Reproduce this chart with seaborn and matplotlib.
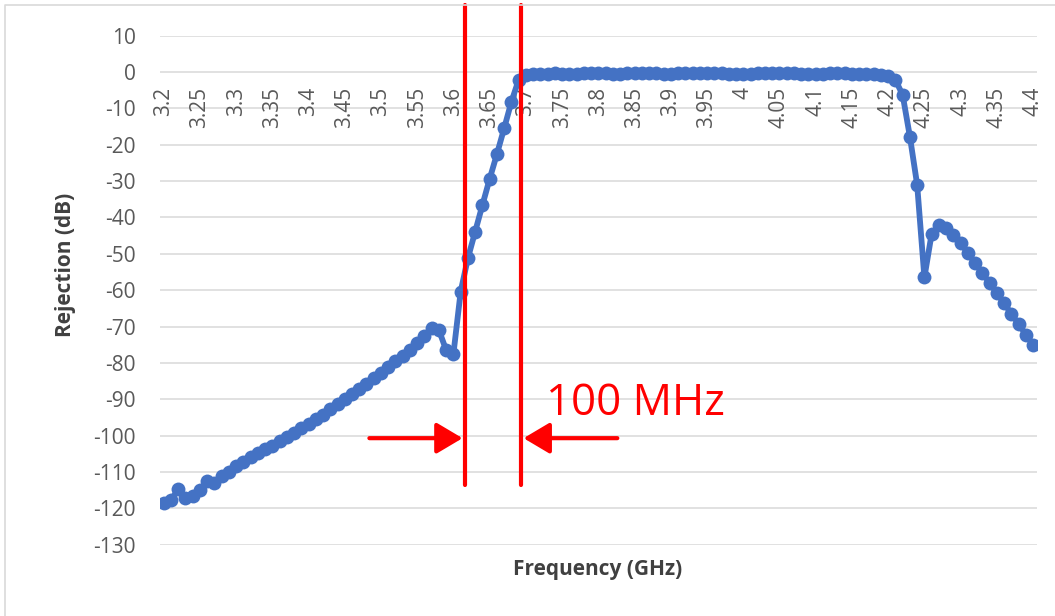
import numpy as np
import pandas as pd
import matplotlib.pyplot as plt
import matplotlib.lines as mlines
import seaborn as sns

# filter response (0.01 GHz steps)
freq = [3.20, 3.21, 3.22, 3.23, 3.24, 3.25, 3.26, 3.27, 3.28, 3.29,
        3.30, 3.31, 3.32, 3.33, 3.34, 3.35, 3.36, 3.37, 3.38, 3.39,
        3.40, 3.41, 3.42, 3.43, 3.44, 3.45, 3.46, 3.47, 3.48, 3.49,
        3.50, 3.51, 3.52, 3.53, 3.54, 3.55, 3.56, 3.57, 3.58, 3.59,
        3.60, 3.61, 3.62, 3.63, 3.64, 3.65, 3.66, 3.67, 3.68, 3.69,
        3.70, 3.71, 3.72, 3.73, 3.74, 3.75, 3.76, 3.77, 3.78, 3.79,
        3.80, 3.81, 3.82, 3.83, 3.84, 3.85, 3.86, 3.87, 3.88, 3.89,
        3.90, 3.91, 3.92, 3.93, 3.94, 3.95, 3.96, 3.97, 3.98, 3.99,
        4.00, 4.01, 4.02, 4.03, 4.04, 4.05, 4.06, 4.07, 4.08, 4.09,
        4.10, 4.11, 4.12, 4.13, 4.14, 4.15, 4.16, 4.17, 4.18, 4.19,
        4.20, 4.21, 4.22, 4.23, 4.24, 4.25, 4.26, 4.27, 4.28, 4.29,
        4.30, 4.31, 4.32, 4.33, 4.34, 4.35, 4.36, 4.37, 4.38, 4.39,
        4.40]

rejection = [-118.5, -117.8, -114.8, -117.2, -116.5, -115.0, -112.4, -112.9, -111.0, -110.0,
             -108.3, -107.2, -106.0, -104.8, -103.8, -102.8, -101.6, -100.4, -99.2, -98.0,
             -96.8, -95.5, -94.2, -92.8, -91.4, -90.0, -88.6, -87.2, -85.7, -84.2,
             -82.7, -81.2, -79.6, -78.0, -76.4, -74.6, -72.6, -70.4, -71.0, -76.5,
             -77.5, -60.4, -51.2, -43.9, -36.6, -29.4, -22.6, -15.5, -8.2, -2.2,
             -0.8, -0.6, -0.5, -0.5, -0.4, -0.5, -0.6, -0.5, -0.4, -0.3,
             -0.3, -0.4, -0.5, -0.5, -0.4, -0.3, -0.2, -0.3, -0.4, -0.5,
             -0.5, -0.4, -0.3, -0.2, -0.2, -0.3, -0.3, -0.4, -0.5, -0.5,
             -0.6, -0.5, -0.4, -0.3, -0.2, -0.2, -0.3, -0.4, -0.5, -0.5,
             -0.5, -0.5, -0.4, -0.4, -0.4, -0.5, -0.5, -0.5, -0.6, -0.8,
             -1.2, -2.2, -6.3, -17.8, -31.0, -56.5, -44.5, -42.2, -43.0, -44.8,
             -47.0, -49.8, -52.6, -55.3, -58.0, -60.8, -63.6, -66.5, -69.3, -72.2,
             -75.0]

x_ticks = [3.2, 3.25, 3.3, 3.35, 3.4, 3.45, 3.5, 3.55, 3.6, 3.65, 3.7, 3.75,
           3.8, 3.85, 3.9, 3.95, 4.0, 4.05, 4.1, 4.15, 4.2, 4.25, 4.3, 4.35, 4.4]
x_tick_labels = ['3.2', '3.25', '3.3', '3.35', '3.4', '3.45', '3.5', '3.55', '3.6',
                 '3.65', '3.7', '3.75', '3.8', '3.85', '3.9', '3.95', '4', '4.05',
                 '4.1', '4.15', '4.2', '4.25', '4.3', '4.35', '4.4']
y_ticks = [10, 0, -10, -20, -30, -40, -50, -60, -70, -80, -90, -100, -110, -120, -130]

# band edge markers and the 100 MHz note
edge_lo = 3.6166
edge_hi = 3.6938

df = pd.DataFrame({'freq': freq, 'rejection': rejection})

sns.set_theme(style='white')
plt.rcParams['font.family'] = ['Open Sans', 'DejaVu Sans']

fig = plt.figure(figsize=(10.55, 6.16), dpi=100)
ax = fig.add_axes([0.1513, 0.1157, 0.8317, 0.8265])

# horizontal gridlines like Excel
for yv in y_ticks:
    ax.axhline(yv, color='#d9d9d9', lw=1.1, zorder=0)

sns.lineplot(data=df, x='freq', y='rejection', ax=ax, color='#4472C4',
             linewidth=4.2, marker='o', markersize=10, markeredgewidth=0,
             zorder=3)

ax.set_xlim(3.1945, 4.4055)
ax.set_ylim(-130, 10)
ax.set_yticks(y_ticks)
ax.set_yticklabels([str(v) for v in y_ticks])
ax.set_xticks(x_ticks)
ax.set_xticklabels(x_tick_labels)

for s in ['top', 'right', 'left']:
    ax.spines[s].set_visible(False)
ax.spines['bottom'].set_position(('data', 0))
ax.spines['bottom'].set_visible(False)

ax.tick_params(axis='x', length=0, pad=10.5, labelsize=15, labelcolor='#595959',
               labelrotation=90)
ax.tick_params(axis='y', length=0, pad=17, labelsize=15, labelcolor='#595959')
ax.set_xlabel('')
ax.set_ylabel('')

fig.text(65 / 1055, 1 - 265 / 616, 'Rejection (dB)', rotation=90, ha='center',
         va='center', fontsize=15, fontweight='bold', color='#404040')
fig.text(598 / 1055, 1 - 570 / 616, 'Frequency (GHz)', ha='center', va='center',
         fontsize=15, fontweight='bold', color='#404040')

# red vertical band-edge lines
for xe in [edge_lo, edge_hi]:
    ax.plot([xe, xe], [-113.6, 18.4], color='#FF0000', lw=3.0, clip_on=False, zorder=5)

arrow_style = '-|>,head_length=16,head_width=9.5'
ax.annotate('', xy=(edge_lo - 0.004, -100.7), xytext=(3.484, -100.7),
            arrowprops=dict(arrowstyle=arrow_style, color='#FF0000', lw=3.0,
                            shrinkA=0, shrinkB=0, mutation_scale=1), zorder=5)
ax.annotate('', xy=(edge_hi + 0.003, -100.7), xytext=(3.8262, -100.7),
            arrowprops=dict(arrowstyle=arrow_style, color='#FF0000', lw=3.0,
                            shrinkA=0, shrinkB=0, mutation_scale=1), zorder=5)
ax.text(3.7283, -94.3, '100 MHz', color='#FF0000', fontsize=31.5,
        ha='left', va='baseline', zorder=5)

# light chart border at the top and left
fig.add_artist(mlines.Line2D([5 / 1055, 5 / 1055, 1.0], [0.0, 1 - 5 / 616, 1 - 5 / 616],
                             transform=fig.transFigure, color='#d9d9d9', lw=1.2))

plt.savefig('out.png', dpi=100)
